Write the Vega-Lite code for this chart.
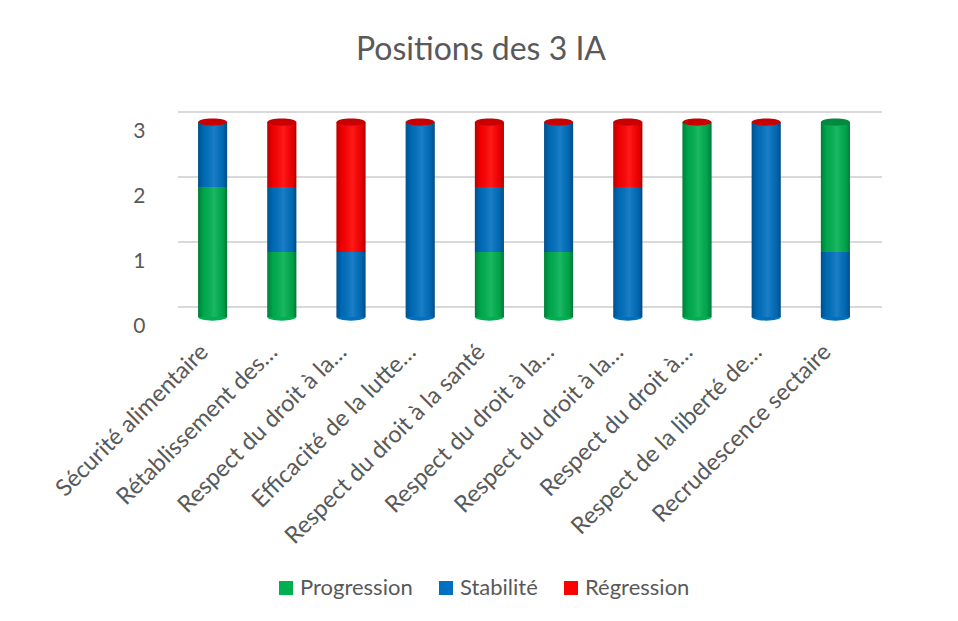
{
  "$schema": "https://vega.github.io/schema/vega-lite/v6.json",
  "autosize": "none",
  "width": 692,
  "height": 195,
  "padding": {"left": 178, "top": 122, "right": 88, "bottom": 304},
  "background": "white",
  "title": {
    "text": "Positions des 3 IA",
    "font": "Lato",
    "fontSize": 32,
    "fontWeight": "normal",
    "color": "#595959",
    "anchor": "middle",
    "dx": -43,
    "offset": 44
  },
  "datasets": {
    "positions": [
      {"categorie": "01|Sécurité alimentaire", "serie": "Progression", "valeur": 2, "rang": 1},
      {"categorie": "01|Sécurité alimentaire", "serie": "Stabilité", "valeur": 1, "rang": 2},
      {"categorie": "02|Rétablissement des…", "serie": "Progression", "valeur": 1, "rang": 1},
      {"categorie": "02|Rétablissement des…", "serie": "Stabilité", "valeur": 1, "rang": 2},
      {"categorie": "02|Rétablissement des…", "serie": "Régression", "valeur": 1, "rang": 3},
      {"categorie": "03|Respect du droit à la…", "serie": "Stabilité", "valeur": 1, "rang": 2},
      {"categorie": "03|Respect du droit à la…", "serie": "Régression", "valeur": 2, "rang": 3},
      {"categorie": "04|Efficacité de la lutte…", "serie": "Stabilité", "valeur": 3, "rang": 2},
      {"categorie": "05|Respect du droit à la santé", "serie": "Progression", "valeur": 1, "rang": 1},
      {"categorie": "05|Respect du droit à la santé", "serie": "Stabilité", "valeur": 1, "rang": 2},
      {"categorie": "05|Respect du droit à la santé", "serie": "Régression", "valeur": 1, "rang": 3},
      {"categorie": "06|Respect du droit à la…", "serie": "Progression", "valeur": 1, "rang": 1},
      {"categorie": "06|Respect du droit à la…", "serie": "Stabilité", "valeur": 2, "rang": 2},
      {"categorie": "07|Respect du droit à la…", "serie": "Stabilité", "valeur": 2, "rang": 2},
      {"categorie": "07|Respect du droit à la…", "serie": "Régression", "valeur": 1, "rang": 3},
      {"categorie": "08|Respect du droit à…", "serie": "Progression", "valeur": 3, "rang": 1},
      {"categorie": "09|Respect de la liberté de…", "serie": "Stabilité", "valeur": 3, "rang": 2},
      {"categorie": "10|Recrudescence sectaire", "serie": "Stabilité", "valeur": 1, "rang": 1},
      {"categorie": "10|Recrudescence sectaire", "serie": "Progression", "valeur": 2, "rang": 2}
    ],
    "bases": [
      {"categorie": "01|Sécurité alimentaire", "serie": "Progression", "niveau": 0},
      {"categorie": "02|Rétablissement des…", "serie": "Progression", "niveau": 0},
      {"categorie": "03|Respect du droit à la…", "serie": "Stabilité", "niveau": 0},
      {"categorie": "04|Efficacité de la lutte…", "serie": "Stabilité", "niveau": 0},
      {"categorie": "05|Respect du droit à la santé", "serie": "Progression", "niveau": 0},
      {"categorie": "06|Respect du droit à la…", "serie": "Progression", "niveau": 0},
      {"categorie": "07|Respect du droit à la…", "serie": "Stabilité", "niveau": 0},
      {"categorie": "08|Respect du droit à…", "serie": "Progression", "niveau": 0},
      {"categorie": "09|Respect de la liberté de…", "serie": "Stabilité", "niveau": 0},
      {"categorie": "10|Recrudescence sectaire", "serie": "Stabilité", "niveau": 0}
    ],
    "sommets": [
      {"categorie": "01|Sécurité alimentaire", "serie": "Régression", "niveau": 3},
      {"categorie": "02|Rétablissement des…", "serie": "Régression", "niveau": 3},
      {"categorie": "03|Respect du droit à la…", "serie": "Régression", "niveau": 3},
      {"categorie": "04|Efficacité de la lutte…", "serie": "Régression", "niveau": 3},
      {"categorie": "05|Respect du droit à la santé", "serie": "Régression", "niveau": 3},
      {"categorie": "06|Respect du droit à la…", "serie": "Régression", "niveau": 3},
      {"categorie": "07|Respect du droit à la…", "serie": "Régression", "niveau": 3},
      {"categorie": "08|Respect du droit à…", "serie": "Régression", "niveau": 3},
      {"categorie": "09|Respect de la liberté de…", "serie": "Régression", "niveau": 3},
      {"categorie": "10|Recrudescence sectaire", "serie": "Progression", "niveau": 3}
    ],
    "grille": [
      {"niveau": 0}, {"niveau": 1}, {"niveau": 2}, {"niveau": 3}
    ]
  },
  "layer": [
    {
      "data": {"name": "grille"},
      "mark": {"type": "rule", "color": "#D9D9D9", "strokeWidth": 2, "xOffset": 12, "yOffset": -10},
      "encoding": {
        "y": {
          "field": "niveau", "type": "quantitative", "title": null,
          "scale": {"domain": [0, 3], "nice": false},
          "axis": {
            "values": [0, 1, 2, 3],
            "format": "d",
            "labelFont": "Lato",
            "labelFontSize": 21,
            "labelColor": "#595959",
            "labelPadding": 33,
            "labelOffset": 9,
            "ticks": false,
            "domain": false,
            "grid": false
          }
        }
      }
    },
    {
      "data": {"name": "bases"},
      "mark": {"type": "point", "filled": true, "opacity": 1, "size": 841, "shape": "M-1,0 A1,0.25,0,1,1,1,0 A1,0.25,0,1,1,-1,0 Z"},
      "encoding": {
        "x": {"field": "categorie", "type": "nominal", "sort": null},
        "y": {"field": "niveau", "type": "quantitative"},
        "color": {"field": "serie", "type": "nominal", "scale": {"domain": ["Progression", "Stabilité", "Régression"], "range": ["#00B050", "#0070C0", "#FF0000"]}, "legend": null}
      }
    },
    {
      "data": {"name": "positions"},
      "mark": {"type": "bar"},
      "encoding": {
        "x": {
          "field": "categorie", "type": "nominal", "sort": null, "title": null,
          "scale": {"paddingInner": 0.58, "paddingOuter": 0.29},
          "axis": {
            "labelExpr": "split(datum.label, '|')[1]",
            "labelAngle": -45,
            "labelAlign": "right",
            "labelBaseline": "middle",
            "labelFont": "Lato",
            "labelFontSize": 23.5,
            "labelColor": "#595959",
            "labelPadding": 31,
            "labelOffset": -8,
            "labelLimit": 400,
            "ticks": false,
            "domain": false,
            "grid": false
          }
        },
        "y": {"field": "valeur", "type": "quantitative", "stack": "zero"},
        "color": {
          "field": "serie", "type": "nominal",
          "scale": {"domain": ["Progression", "Stabilité", "Régression"], "range": ["#00B050", "#0070C0", "#FF0000"]},
          "legend": {
            "title": null,
            "orient": "none",
            "direction": "horizontal",
            "legendX": 97,
            "legendY": 455,
            "symbolType": "square",
            "symbolSize": 196,
            "symbolStrokeWidth": 0,
            "labelFont": "Lato",
            "labelFontSize": 22,
            "labelColor": "#595959",
            "labelOffset": 3,
            "columnPadding": 22,
            "labelLimit": 300
          }
        },
        "order": {"field": "rang", "type": "quantitative"}
      }
    },
    {
      "data": {"name": "positions"},
      "mark": {
        "type": "bar",
        "fill": {
          "gradient": "linear", "x1": 0, "x2": 1, "y1": 0, "y2": 0,
          "stops": [
            {"offset": 0, "color": "rgba(0,0,0,0.28)"},
            {"offset": 0.2, "color": "rgba(0,0,0,0.06)"},
            {"offset": 0.55, "color": "rgba(255,255,255,0.10)"},
            {"offset": 0.85, "color": "rgba(0,0,0,0.08)"},
            {"offset": 1, "color": "rgba(0,0,0,0.32)"}
          ]
        }
      },
      "encoding": {
        "x": {"field": "categorie", "type": "nominal", "sort": null},
        "y": {"field": "valeur", "type": "quantitative", "stack": "zero"},
        "detail": {"field": "serie", "type": "nominal"},
        "order": {"field": "rang", "type": "quantitative"}
      }
    },
    {
      "data": {"name": "sommets"},
      "mark": {"type": "point", "filled": true, "opacity": 1, "size": 841, "shape": "M-1,0 A1,0.25,0,1,1,1,0 A1,0.25,0,1,1,-1,0 Z"},
      "encoding": {
        "x": {"field": "categorie", "type": "nominal", "sort": null},
        "y": {"field": "niveau", "type": "quantitative"},
        "color": {"field": "serie", "type": "nominal", "scale": {"domain": ["Progression", "Stabilité", "Régression"], "range": ["#00893F", "#005A9C", "#C80000"]}, "legend": null}
      }
    }
  ],
  "resolve": {"scale": {"color": "independent"}},
  "config": {"view": {"stroke": null}}
}
